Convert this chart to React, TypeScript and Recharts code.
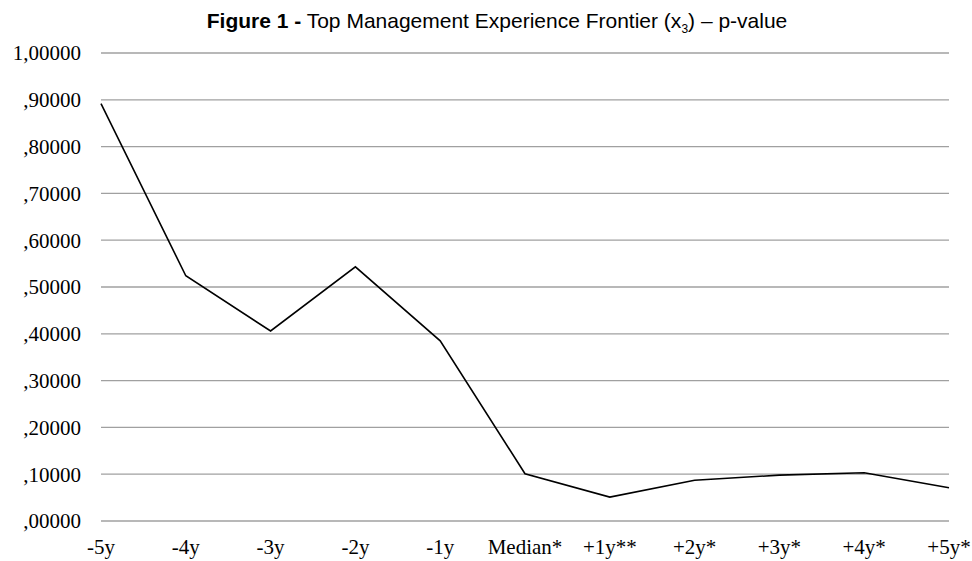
import { LineChart, Line, XAxis, YAxis, CartesianGrid } from 'recharts'

const periods = ['-5y', '-4y', '-3y', '-2y', '-1y', 'Median*', '+1y**', '+2y*', '+3y*', '+4y*', '+5y*']
const pValues = [0.892, 0.524, 0.406, 0.543, 0.385, 0.101, 0.051, 0.087, 0.098, 0.103, 0.071]
const yTicks = [0, 0.1, 0.2, 0.3, 0.4, 0.5, 0.6, 0.7, 0.8, 0.9, 1]

const data = periods.map((p, i) => ({ period: p, pValue: pValues[i] }))

// SPSS-style labels: ",90000" / "1,00000"
const formatTick = (v: number) => {
  const s = v.toFixed(5).replace('.', ',')
  return s.startsWith('0,') ? s.slice(1) : s
}

const tickStyle = { fontFamily: '"Liberation Serif", "Times New Roman", serif', fontSize: 21, fill: '#000' }

export default function App() {
  return (
    <div style={{ position: 'absolute', left: 0, top: 0, width: 972, height: 561, background: '#fff' }}>
      <LineChart width={972} height={561} data={data} margin={{ top: 53, right: 23, left: 0, bottom: 0 }}>
        <CartesianGrid vertical={false} stroke="#a0a0a0" strokeWidth={1.3} />
        <XAxis
          dataKey="period"
          height={40}
          axisLine={false}
          tickLine={false}
          tickSize={0}
          tickMargin={18}
          interval={0}
          tick={tickStyle}
        />
        <YAxis
          width={101}
          domain={[0, 1]}
          ticks={yTicks}
          tickFormatter={formatTick}
          axisLine={false}
          tickLine={false}
          tickSize={0}
          tickMargin={20}
          tick={tickStyle}
        />
        <Line
          type="linear"
          dataKey="pValue"
          stroke="#000"
          strokeWidth={1.6}
          dot={false}
          isAnimationActive={false}
        />
      </LineChart>
      <div
        style={{
          position: 'absolute',
          top: 9,
          left: 11,
          width: 972,
          textAlign: 'center',
          fontFamily: '"Liberation Sans", Arial, sans-serif',
          fontSize: 21,
          lineHeight: '24px',
          color: '#000',
        }}
      >
        <b>Figure 1 -</b> Top Management Experience Frontier (x
        <sub style={{ fontSize: 12, lineHeight: 0 }}>3</sub>) – p-value
      </div>
    </div>
  )
}
